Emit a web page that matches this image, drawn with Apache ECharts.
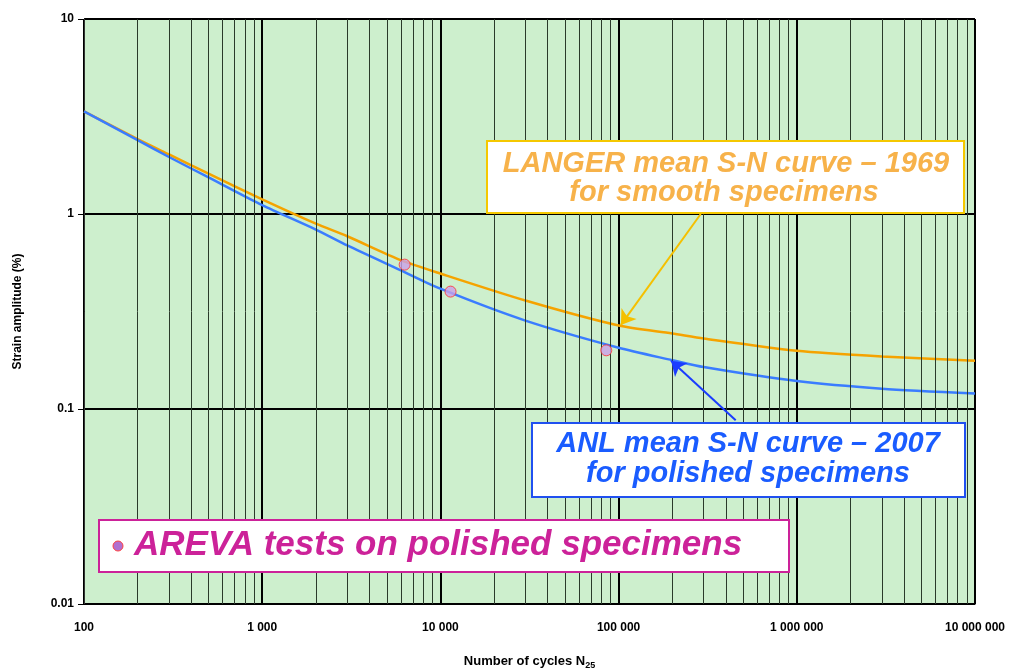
<!DOCTYPE html>
<html>
<head>
<meta charset="utf-8">
<script src="https://cdn.jsdelivr.net/npm/echarts@6/dist/echarts.min.js"></script>
<style>html,body{margin:0;padding:0;background:#fff;overflow:hidden}#c{width:1012px;height:670px}</style>
</head>
<body>
<div id="c"></div>
<script>
// ---- data ----
const cycles = [100, 200, 300, 500, 1000, 2000, 3000, 6000, 10000, 30000, 100000, 200000, 300000, 1000000, 3000000, 10000000];
const langerStrain = [3.36, 2.42, 2.02, 1.61, 1.19, 0.893, 0.769, 0.58, 0.495, 0.36, 0.268, 0.244, 0.23, 0.199, 0.186, 0.177];
const anlStrain    = [3.36, 2.39, 1.96, 1.54, 1.11, 0.832, 0.69, 0.514, 0.414, 0.284, 0.206, 0.178, 0.164, 0.139, 0.127, 0.120];
const arevaCycles = [6300, 11400, 85300];
const arevaStrain = [0.55, 0.40, 0.20];
const decades = [100, 1000, 10000, 100000, 1000000];
const minorMultipliers = [2, 3, 4, 5, 6, 7, 8, 9];
const xTickLabels = ['100', '1 000', '10 000', '100 000', '1 000 000', '10 000 000'];
const yTickLabels = ['0.01', '0.1', '1', '10'];

const minorX = [];
decades.forEach(d => minorMultipliers.forEach(m => minorX.push(d * m)));

function fmtX(v) {
  const e = Math.round(Math.log10(v)) - 2;
  return xTickLabels[e] !== undefined ? xTickLabels[e] : '';
}
function fmtY(v) {
  const e = Math.round(Math.log10(v)) + 2;
  return yTickLabels[e] !== undefined ? yTickLabels[e] : '';
}

const chart = echarts.init(document.getElementById('c'), null, {renderer: 'canvas', width: 1012, height: 670});
const tickFont = 'Liberation Sans Narrow, Liberation Sans, Arial, sans-serif';
const boxFont = 'Liberation Sans, Arial, sans-serif';

chart.setOption({
  animation: false,
  backgroundColor: '#ffffff',
  grid: {left: 84, right: 37, top: 19, bottom: 66, containLabel: false, outerBoundsMode: 'none',
         show: true, backgroundColor: '#cdefcd', borderColor: '#8a7a5a', borderWidth: 1},
  xAxis: {
    type: 'log', logBase: 10, min: 100, max: 10000000,
    name: '{a|Number of cycles N}{s|25}',
    nameLocation: 'middle', nameGap: 49,
    nameTextStyle: {rich: {
      a: {fontFamily: tickFont, fontWeight: 'bold', fontSize: 13, color: '#000'},
      s: {fontFamily: tickFont, fontWeight: 'bold', fontSize: 9, color: '#000', verticalAlign: 'bottom', padding: [8, 0, 0, 0]}
    }},
    axisLine: {show: true, lineStyle: {color: '#000', width: 1}},
    axisTick: {show: false},
    axisLabel: {formatter: fmtX, fontFamily: tickFont, fontWeight: 'bold', fontSize: 12, color: '#000', margin: 18},
    splitLine: {show: true, lineStyle: {color: '#000', width: 2}}
  },
  yAxis: {
    type: 'log', logBase: 10, min: 0.01, max: 10,
    name: 'Strain amplitude (%)',
    nameLocation: 'middle', nameGap: 60,
    nameTextStyle: {fontFamily: tickFont, fontWeight: 'bold', fontSize: 12, color: '#000'},
    axisLine: {show: true, lineStyle: {color: '#333', width: 1}},
    axisTick: {show: true, length: 6, inside: false, lineStyle: {color: '#000'}},
    axisLabel: {formatter: fmtY, fontFamily: tickFont, fontWeight: 'bold', fontSize: 12, color: '#000', margin: 10},
    splitLine: {show: true, lineStyle: {color: '#000', width: 2}}
  },
  series: [
    {
      type: 'line', name: 'grid', data: [], silent: true,
      markLine: {
        silent: true, symbol: ['none', 'none'], label: {show: false},
        lineStyle: {color: '#2a3a2a', width: 1, type: 'solid'},
        data: minorX.map(v => ({xAxis: v}))
      }
    },
    {
      type: 'line', name: 'LANGER', smooth: 0.25, showSymbol: false,
      data: cycles.map((c, i) => [c, langerStrain[i]]),
      lineStyle: {color: '#f5a300', width: 2.5}, z: 3,
      markLine: {
        silent: true, symbol: ['none', 'arrow'], symbolSize: 14, label: {show: false},
        lineStyle: {color: '#f5c000', width: 2, type: 'solid'},
        data: [[{coord: [289000, 1.0]}, {coord: [103000, 0.27]}]]
      }
    },
    {
      type: 'line', name: 'ANL', smooth: 0.25, showSymbol: false,
      data: cycles.map((c, i) => [c, anlStrain[i]]),
      lineStyle: {color: '#3a7cff', width: 2.5}, z: 3,
      markLine: {
        silent: true, symbol: ['none', 'arrow'], symbolSize: 14, label: {show: false},
        lineStyle: {color: '#1a3cff', width: 2, type: 'solid'},
        data: [[{coord: [454000, 0.0875]}, {coord: [197000, 0.177]}]]
      }
    },
    {
      type: 'scatter', name: 'AREVA',
      data: arevaCycles.map((c, i) => [c, arevaStrain[i]]),
      symbol: 'circle', symbolSize: 11, z: 5,
      itemStyle: {color: '#c9a0e8', borderColor: '#ff3030', borderWidth: 1}
    }
  ],
  graphic: [
    {type: 'rect', shape: {x: 487, y: 141, width: 477, height: 72}, style: {fill: '#ffffff', stroke: '#f5c800', lineWidth: 2}, z: 10},
    {type: 'text', x: 726, y: 164, style: {text: 'LANGER mean S-N curve – 1969', font: 'italic bold 29px ' + boxFont, fill: '#f7b24a', align: 'center', verticalAlign: 'middle'}, z: 11},
    {type: 'text', x: 724, y: 193, style: {text: 'for smooth specimens', font: 'italic bold 29px ' + boxFont, fill: '#f7b24a', align: 'center', verticalAlign: 'middle'}, z: 11},
    {type: 'rect', shape: {x: 532, y: 423, width: 433, height: 74}, style: {fill: '#ffffff', stroke: '#2050f0', lineWidth: 2}, z: 10},
    {type: 'text', x: 748, y: 444, style: {text: 'ANL mean S-N curve – 2007', font: 'italic bold 29px ' + boxFont, fill: '#1a5cff', align: 'center', verticalAlign: 'middle'}, z: 11},
    {type: 'text', x: 748, y: 474, style: {text: 'for polished specimens', font: 'italic bold 29px ' + boxFont, fill: '#1a5cff', align: 'center', verticalAlign: 'middle'}, z: 11},
    {type: 'rect', shape: {x: 99, y: 520, width: 690, height: 52}, style: {fill: '#ffffff', stroke: '#cc2299', lineWidth: 2}, z: 10},
    {type: 'circle', shape: {cx: 118, cy: 546, r: 5}, style: {fill: '#b070d0', stroke: '#ff4040', lineWidth: 1}, z: 11},
    {type: 'text', x: 134, y: 545, style: {text: 'AREVA tests on polished specimens', font: 'italic bold 35px ' + boxFont, fill: '#cc2299', align: 'left', verticalAlign: 'middle'}, z: 11}
  ]
});
</script>
</body>
</html>
